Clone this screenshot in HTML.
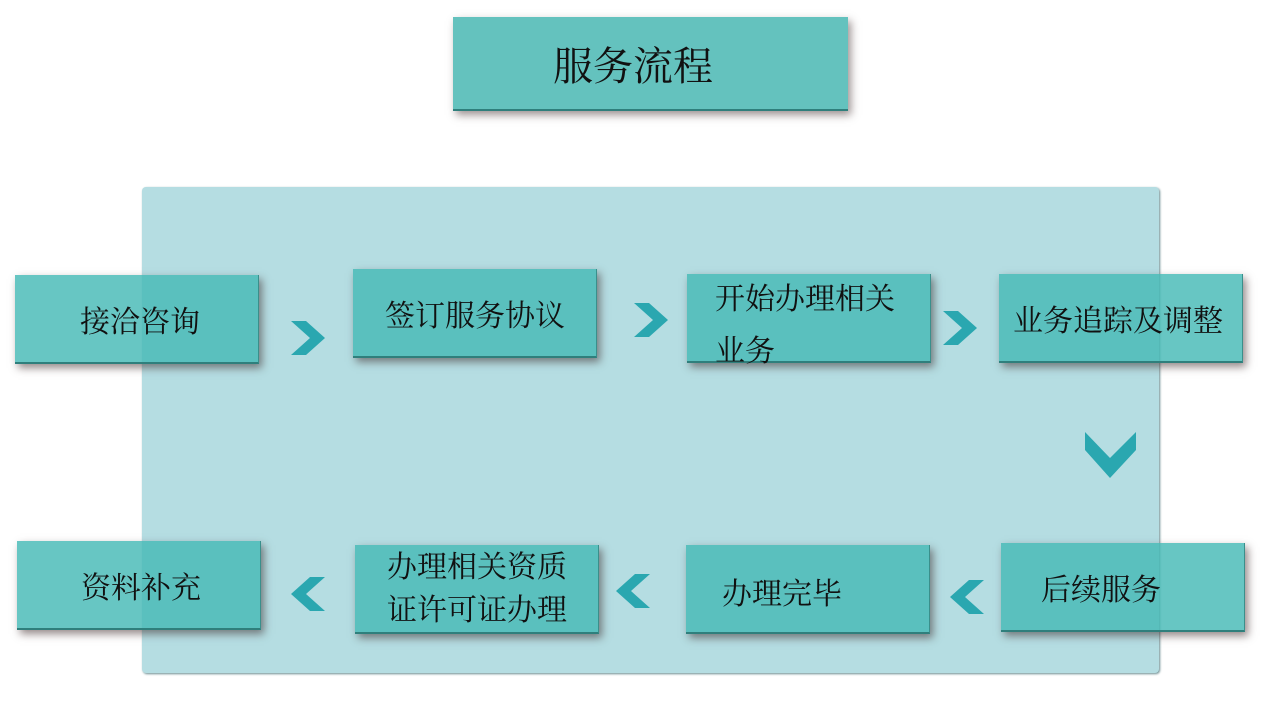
<!DOCTYPE html>
<html><head><meta charset="utf-8"><style>
body{margin:0;width:1285px;height:716px;background:#fff;position:relative;overflow:hidden;font-family:"Liberation Serif","Noto Serif CJK SC",serif;}
.panel{position:absolute;left:142px;top:187px;width:1017px;height:486px;background:#b5dde2;border-radius:4px;box-shadow:1px 1px 2px #6a8c90;}
.b{position:absolute;width:244px;height:89px;background:rgba(70,186,182,0.82);box-shadow:3px 4px 8px rgba(60,40,40,0.55);border-bottom:2px solid #2f7f7c;border-right:1px solid #3a8f8b;box-sizing:border-box;font-size:30px;color:#111;display:flex;align-items:center;white-space:nowrap;}
.t{position:absolute;left:453px;top:17px;width:395px;height:94px;background:#64c2be;box-shadow:3px 4px 8px rgba(60,40,40,0.5);border-bottom:2px solid #2f7f7c;box-sizing:border-box;font-size:40px;display:flex;align-items:center;padding-left:100px;font-family:"Liberation Serif","Noto Serif CJK SC",serif;color:#111;}
svg{position:absolute;left:0;top:0}
</style></head><body>
<div class="panel"></div>
<div class="t">服务流程</div>
<div class="b" style="left:15px;top:275px;padding-left:65px">接洽咨询</div>
<div class="b" style="left:353px;top:269px;padding-left:32px">签订服务协议</div>
<div class="b" style="left:687px;top:274px;padding-left:28px;line-height:52px;align-items:flex-start;padding-top:0">开始办理相关<br>业务</div>
<div class="b" style="left:999px;top:274px;padding-left:14px">业务追踪及调整</div>
<div class="b" style="left:17px;top:541px;padding-left:64px">资料补充</div>
<div class="b" style="left:355px;top:545px;padding-left:32px;line-height:43px">办理相关资质<br>证许可证办理</div>
<div class="b" style="left:686px;top:545px;padding-left:36px;padding-top:4px">办理完毕</div>
<div class="b" style="left:1001px;top:543px;padding-left:40px">后续服务</div>
<svg width="1285" height="716" fill="#2aa7b0">
<polygon points="291,321 306,321 325,338 306,355 291,355 310,338"/>
<polygon points="634,303 649,303 668,320 649,337 634,337 653,320"/>
<polygon points="943,311 958,311 977,328 958,345 943,345 962,328"/>
<polygon points="1085,432 1085,450 1110,478 1136,450 1136,432 1110,458"/>
<polygon points="325,577 310,577 291,594 310,611 325,611 306,594"/>
<polygon points="650,574 635,574 616,591 635,608 650,608 631,591"/>
<polygon points="984,580 969,580 950,597 969,614 984,614 965,597"/>
</svg>
</body></html>
